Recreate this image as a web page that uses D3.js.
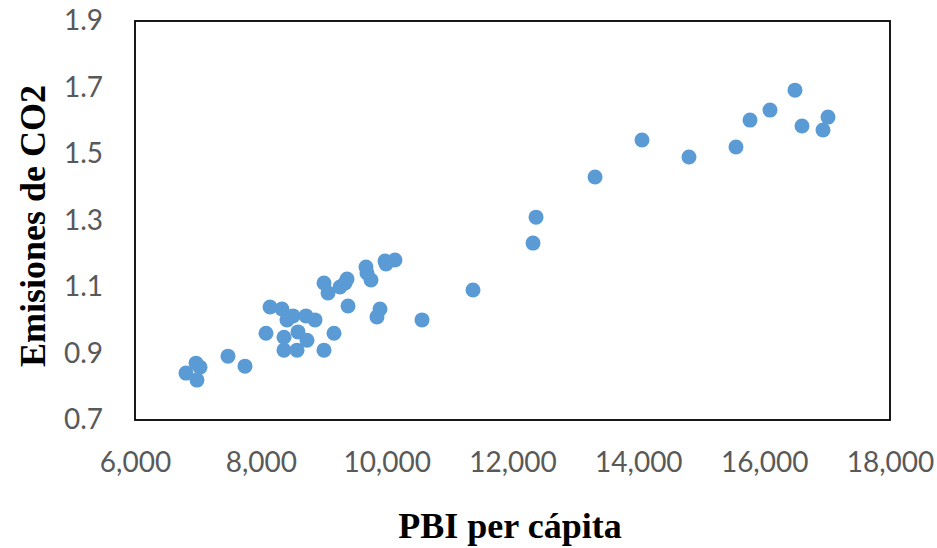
<!DOCTYPE html>
<html>
<head>
<meta charset="utf-8">
<script src="https://cdn.jsdelivr.net/npm/d3@7"></script>
<style>
  body { margin: 0; background: #fff; }
  .tick text { font-family: Lato, "Open Sans", sans-serif; font-size: 28px; fill: #595959; }
  .title { font-family: "Liberation Serif", "Times New Roman", serif; font-weight: bold; font-size: 36px; fill: #000; }
</style>
</head>
<body>
<div class="chart"></div>
<script>
let svgWidth = 937;
let svgHeight = 548;

let margin = { top: 21, right: 47, bottom: 128, left: 135 };

let width = svgWidth - margin.left - margin.right;
let height = svgHeight - margin.top - margin.bottom;

// data
let pbi = [6810, 6970, 7033, 6985, 7478, 7748, 8082, 8146, 8336, 8368,
           8368, 8416, 8511, 8575, 8591, 8734, 8718, 8861, 9004, 9004,
           9068, 9163, 9258, 9370, 9338, 9386, 9671, 9687, 9751, 9846,
           9894, 9974, 9990, 10132, 10562, 11372, 12326, 12374, 13312, 14058,
           14805, 15552, 15775, 16093, 16490, 16601, 16935, 17015];
let co2 = [0.841, 0.871, 0.859, 0.820, 0.892, 0.862, 0.961, 1.040, 1.034, 0.949,
           0.910, 1.001, 1.013, 0.910, 0.965, 0.940, 1.013, 1.001, 0.910, 1.112,
           1.082, 0.961, 1.100, 1.124, 1.112, 1.043, 1.160, 1.142, 1.121, 1.010,
           1.034, 1.178, 1.169, 1.181, 1.001, 1.091, 1.232, 1.310, 1.431, 1.542,
           1.491, 1.521, 1.602, 1.632, 1.692, 1.584, 1.572, 1.611];
let xTicks = [6000, 8000, 10000, 12000, 14000, 16000, 18000];
let yTicks = [0.7, 0.9, 1.1, 1.3, 1.5, 1.7, 1.9];

let points = pbi.map((v, i) => ({ x: v, y: co2[i] }));

let svg = d3.select(".chart")
    .append("svg")
    .attr("width", svgWidth)
    .attr("height", svgHeight);

let chartGroup = svg.append("g")
    .attr("transform", `translate(${margin.left}, ${margin.top})`);

let xScale = d3.scaleLinear().domain([6000, 18000]).range([0, width]);
let yScale = d3.scaleLinear().domain([0.7, 1.9]).range([height, 0]);

let bottomAxis = d3.axisBottom(xScale)
    .tickValues(xTicks)
    .tickSize(0)
    .tickPadding(32)
    .tickFormat(d3.format(",.0f"));
let leftAxis = d3.axisLeft(yScale)
    .tickValues(yTicks)
    .tickSize(0)
    .tickPadding(32)
    .tickFormat(d3.format(".1f"));

chartGroup.append("g")
    .attr("transform", `translate(0, ${height})`)
    .call(bottomAxis)
    .call(g => g.select(".domain").remove());

chartGroup.append("g")
    .call(leftAxis)
    .call(g => g.select(".domain").remove());

// plot frame
chartGroup.append("rect")
    .attr("x", 0)
    .attr("y", 0)
    .attr("width", width)
    .attr("height", height)
    .attr("fill", "none")
    .attr("stroke", "#000")
    .attr("stroke-width", 1.8);

chartGroup.selectAll("circle")
    .data(points)
    .enter()
    .append("circle")
    .attr("cx", d => xScale(d.x))
    .attr("cy", d => yScale(d.y))
    .attr("r", 7.5)
    .attr("fill", "#5B9BD5");

svg.append("text")
    .attr("class", "title")
    .attr("x", 510)
    .attr("y", 538)
    .attr("text-anchor", "middle")
    .text("PBI per cápita");

svg.append("text")
    .attr("class", "title")
    .attr("transform", "translate(45, 226) rotate(-90)")
    .attr("text-anchor", "middle")
    .text("Emisiones de CO2");
</script>
</body>
</html>
